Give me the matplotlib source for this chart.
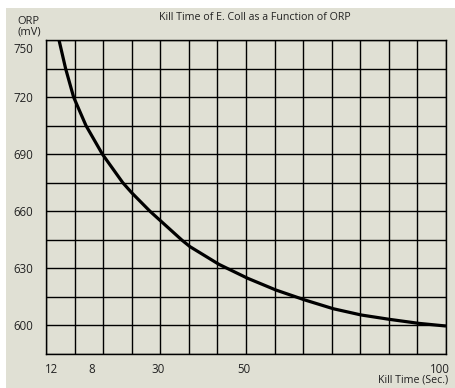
import numpy as np
import matplotlib.pyplot as plt
import matplotlib.transforms as mtransforms
from matplotlib.patches import Rectangle

plt.rcParams['font.family'] = ['Open Sans', 'DejaVu Sans']

# kill time (sec) vs ORP (mV)
kill_time = [3.25, 4.9, 6.9, 10.0, 14.1, 19.2, 21.4, 26.0, 34.0,
             36.0, 43.25, 50.4, 57.5, 64.7, 71.8, 78.8, 85.9, 93.2, 100.0]
orp = [750, 735, 720, 705, 690, 675, 669.8, 660, 644.8,
       641.4, 632.1, 624.8, 618.6, 613.4, 608.8, 605.5, 603.2, 601.1, 599.7]

xtick_pos = [1.5, 11.4, 27.9, 49.5, 98.5]
xtick_labels = ['12', '8', '30', '50', '100']
ytick_vals = [600, 630, 660, 690, 720, 750]

bg = '#e0e0d4'
txt = '#222222'

fig = plt.figure(figsize=(4.55, 3.88), dpi=100)
fig.patch.set_facecolor('white')
fig.patches.append(Rectangle((6/455, 0), 1 - 6/455, 1 - 8/388,
                             transform=fig.transFigure, facecolor=bg,
                             edgecolor='none', zorder=-1))

ax = fig.add_axes([46/455, 34/388, 400/455, 314/388])
ax.set_facecolor(bg)
ax.set_xlim(0, 100)
ax.set_ylim(585, 750)

# grid: 14 columns, 11 rows
for gx in np.linspace(0, 100, 15):
    ax.axvline(gx, color='black', lw=1.0, zorder=1)
for gy in np.arange(585, 751, 15):
    ax.axhline(gy, color='black', lw=1.0, zorder=1)

ax.plot(kill_time, orp, color='black', lw=2.3, zorder=3,
        solid_capstyle='butt', solid_joinstyle='round')

ax.set_xticks(xtick_pos)
ax.set_xticklabels(xtick_labels)
ax.set_yticks(ytick_vals)
ax.set_yticklabels([str(v) for v in ytick_vals])
ax.tick_params(axis='both', length=0, labelsize=8.3, colors=txt)
ax.tick_params(axis='y', pad=9.5)
ax.tick_params(axis='x', pad=6.5)
for s in ax.spines.values():
    s.set_color('black')
    s.set_linewidth(1.0)

# top label sits below the top line
top = ax.get_yticklabels()[-1]
top.set_transform(top.get_transform() +
                  mtransforms.ScaledTranslation(0, -8/100, fig.dpi_scale_trans))

fig.text(255/455, 1 - 17/388, 'Kill Time of E. Coll as a Function of ORP',
         ha='center', va='center', fontsize=7.7, color=txt)
fig.text(17/455, 1 - 27/388, 'ORP\n(mV)', ha='left', va='center',
         fontsize=8, color=txt, linespacing=0.95)
fig.text(448/455, 1 - 380/388, 'Kill Time (Sec.)', ha='right', va='center',
         fontsize=7.7, color=txt)

fig.savefig('out.png', dpi=100, facecolor=fig.get_facecolor())
